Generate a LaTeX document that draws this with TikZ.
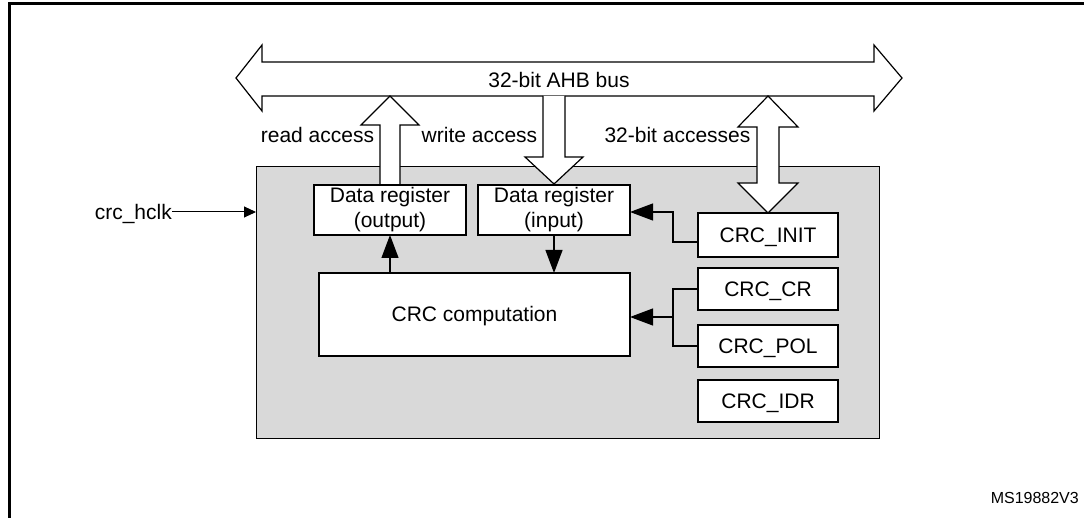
\documentclass[tikz,border=0pt]{standalone}
\usepackage{fontspec}
\setmainfont{Liberation Sans}
\usetikzlibrary{arrows.meta,calc}
\definecolor{panelgray}{RGB}{217,217,217}
\begin{document}
\begin{tikzpicture}[x=1pt,y=-1pt,
  lbl/.style={font=\fontsize{21}{25}\selectfont, inner sep=0pt, text height=15pt, text depth=0pt},
  regbox/.style={draw, line width=1.8pt, fill=white, font=\fontsize{21}{25}\selectfont, inner sep=0pt, outer sep=0pt, text height=15pt, text depth=0pt},
  datbox/.style={draw, line width=1.8pt, fill=white, font=\fontsize{21}{25}\selectfont, inner sep=0pt, outer sep=0pt, align=center, minimum width=152pt, minimum height=50pt},
  blockarrow/.style={draw, line width=1.2pt, fill=white, line join=miter},
  conn/.style={line width=1.2pt, -{Triangle[length=23pt,width=17pt]}},
  wire/.style={line width=1.2pt},
]
\useasboundingbox (0,0) rectangle (1084,518);
% outer frame (partly visible)
\draw[line width=2.2pt] (9.5,518) -- (9.5,3.5) -- (1084,3.5);

% AHB bus
\draw[blockarrow] (236,78) -- (262,45) -- (262,62) -- (874,62) -- (874,45) -- (902,78)
  -- (874,111) -- (874,96) -- (262,96) -- (262,111) -- cycle;
\node[lbl] (bus) at (559,80) {32-bit AHB bus};

% gray panel
\node[draw, fill=panelgray, line width=1pt, inner sep=0pt, outer sep=0pt,
  minimum width=623pt, minimum height=271pt] (panel) at (567.5,302.5) {};

% block arrows to/from bus
\draw[blockarrow] (380,185) -- (380,125) -- (361,125) -- (390,96) -- (419,125) -- (400,125) -- (400,185);
\draw[blockarrow] (543,96) -- (543,157) -- (525,157) -- (554,184) -- (583,157) -- (565,157) -- (565,96);
\draw[blockarrow] (768,96) -- (798,127) -- (779,127) -- (779,183) -- (798,183) -- (768,213)
  -- (738,183) -- (757,183) -- (757,127) -- (738,127) -- cycle;

\node[lbl] (rd) at (317.5,135) {read access};
\node[lbl] (wr) at (479.5,135) {write access};
\node[lbl] (acc) at (677.5,135) {32-bit accesses};

% boxes
\node[datbox] (dout) at (390,210) {Data register\\(output)};
\node[datbox] (din) at (554,210) {Data register\\(input)};
\node[regbox, minimum width=311pt, minimum height=83pt] (comp) at (474.5,314.5) {CRC computation};
\node[regbox, minimum width=140pt, minimum height=44pt] (init) at (768,235) {CRC\_INIT};
\node[regbox, minimum width=140pt, minimum height=42pt] (cr) at (768,289) {CRC\_CR};
\node[regbox, minimum width=140pt, minimum height=42pt] (pol) at (768,346) {CRC\_POL};
\node[regbox, minimum width=140pt, minimum height=42pt] (idr) at (768,401) {CRC\_IDR};

% connectors
\draw[conn] (comp.north -| dout.south) -- (dout.south);
\draw[conn] (din.south) -- (din.south |- comp.north);
\coordinate (bendA) at (673,242);
\draw[conn] ([yshift=-7pt]init.west) -- (bendA) |- ([yshift=-2pt]din.east);
\coordinate (bendB) at (673,317);
\draw[wire] (cr.west) -| (bendB);
\draw[wire] (pol.west) -| (bendB);
\draw[conn] (bendB) -- (bendB -| comp.east);

% clock
\node[lbl, anchor=east] (hclk) at (172,212) {crc\_hclk};
\draw[line width=1pt, -{Triangle[length=12pt,width=11pt]}] (hclk.east) -- (hclk.east -| panel.west);

\node[font=\fontsize{16}{19}\selectfont, inner sep=0pt, text height=11.5pt, text depth=0pt, anchor=east] (ms) at (1079,498) {MS19882V3};
\end{tikzpicture}
\end{document}
